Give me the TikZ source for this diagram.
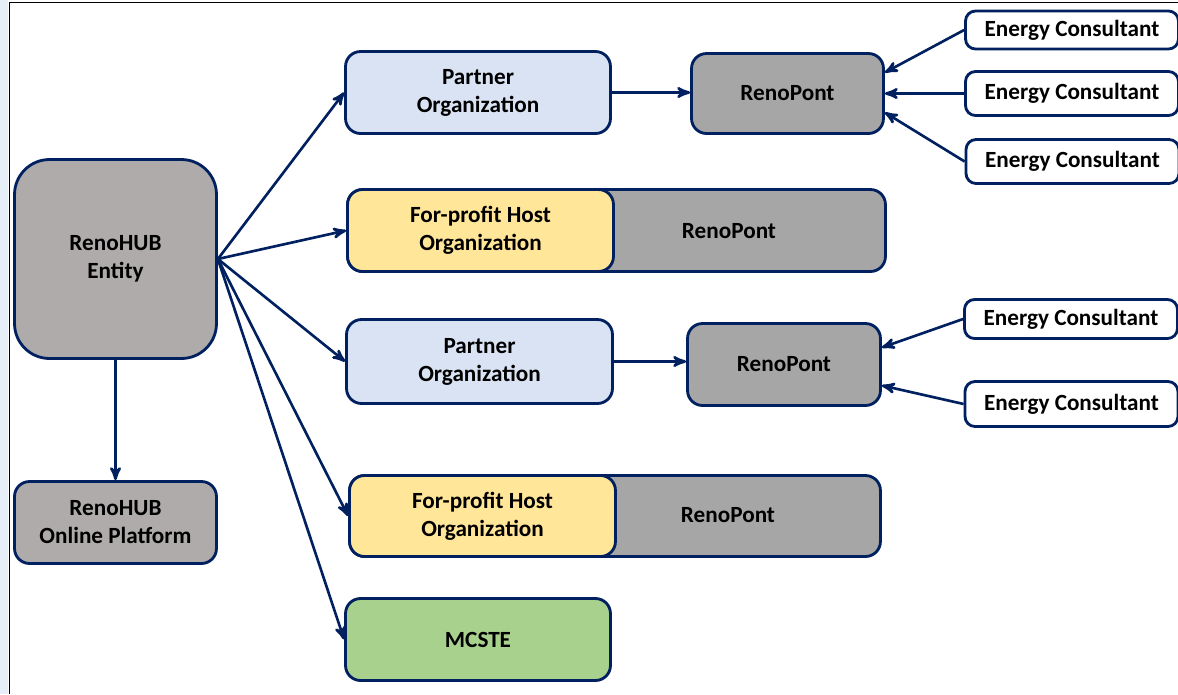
\documentclass[tikz,border=0pt]{standalone}
\usepackage{fontspec}
\setmainfont{Carlito}
\usetikzlibrary{calc}
\usetikzlibrary{arrows}

\definecolor{navy}{RGB}{0,32,96}
\definecolor{hubgray}{RGB}{175,171,171}
\definecolor{pontgray}{RGB}{166,166,166}
\definecolor{partnerblue}{RGB}{218,227,243}
\definecolor{hostyellow}{RGB}{255,230,153}
\definecolor{mcstegreen}{RGB}{169,209,142}
\definecolor{stripblue}{RGB}{230,238,248}

\begin{document}
\begin{tikzpicture} [x=0.02cm, y=-0.02cm,
  box/.style={draw=navy, line width=1.6pt, rounded corners=0.3cm, align=center,
    text=black, font=\bfseries\fontsize{13.2}{16}\selectfont, inner sep=0pt},
  consultant/.style={box, fill=white, rounded corners=0.2cm, minimum width=4.26cm},
  link/.style={navy, line width=1.5pt, ->, >=stealth'}]
\useasboundingbox (0,0) rectangle (1178,694);
\clip (0,0) rectangle (1178,694);
\fill[stripblue] (0,0) rectangle (8,694);
\draw[black, line width=0.9pt] (9.5,694) -- (9.5,2.5) -- (1180,2.5);

\node[box, fill=hubgray, rounded corners=0.7cm, minimum width=4.04cm, minimum height=3.98cm]
  (entity) at (115.5,259) {RenoHUB\\Entity};
\node[box, fill=hubgray, minimum width=4.04cm, minimum height=1.64cm]
  (platform) at (115.5,522.5) {RenoHUB\\Online Platform};

\node[box, fill=partnerblue, minimum width=5.3cm, minimum height=1.64cm]
  (partnerA) at (478,92.5) {Partner\\Organization};
\node[box, fill=pontgray, minimum width=3.84cm, minimum height=1.6cm]
  (renopontA) at (787.5,93.5) {RenoPont};

\node[box, fill=pontgray, minimum width=10.76cm, minimum height=1.64cm]
  (hostA) at (616.5,230.5) {};
\node[box, fill=hostyellow, minimum width=5.32cm, minimum height=1.64cm]
  (hostorgA) at (480.5,230.5) {For-profit Host\\Organization};
\node[font=\bfseries\fontsize{13.2}{16}\selectfont] (hostpontA) at (729,231) {RenoPont};

\node[box, fill=partnerblue, minimum width=5.32cm, minimum height=1.68cm]
  (partnerB) at (479.5,361.5) {Partner\\Organization};
\node[box, fill=pontgray, minimum width=3.86cm, minimum height=1.64cm]
  (renopontB) at (784,364.5) {RenoPont};

\node[box, fill=pontgray, minimum width=10.62cm, minimum height=1.62cm]
  (hostB) at (615,516) {};
\node[box, fill=hostyellow, minimum width=5.32cm, minimum height=1.62cm]
  (hostorgB) at (482.5,516) {For-profit Host\\Organization};
\node[font=\bfseries\fontsize{13.2}{16}\selectfont] (hostpontB) at (728,515) {RenoPont};

\node[box, fill=mcstegreen, minimum width=5.3cm, minimum height=1.64cm]
  (mcste) at (478,639.5) {MCSTE};

% consultants
\node[consultant, minimum height=0.76cm] (ecA1) at (1072,30) {Energy Consultant};
\node[consultant, minimum height=0.88cm] (ecA2) at (1072,93.5) {Energy Consultant};
\node[consultant, minimum height=0.88cm] (ecA3) at (1072.5,161.5) {Energy Consultant};
\node[consultant, minimum height=0.78cm] (ecB1) at (1071,319) {Energy Consultant};
\node[consultant, minimum height=0.9cm] (ecB2) at (1071.5,404) {Energy Consultant};

% links
\draw[link] (entity.south) -- (platform.north);
\foreach \t in {partnerA, hostorgA, partnerB, hostorgB, mcste}
  \draw[link] (entity.east) -- (\t.west);
\draw[link] (partnerA.east) -- (partnerA.east -| renopontA.west);
\draw[link] (partnerB.east) -- (partnerB.east -| renopontB.west);
\draw[link] (ecA1.west) -- ($(renopontA.east)+(0,-21)$);
\draw[link] (ecA2.west) -- (renopontA.east);
\draw[link] (ecA3.west) -- ($(renopontA.east)+(0,19)$);
\draw[link] (ecB1.west) -- ($(renopontB.east)+(0,-17)$);
\draw[link] (ecB2.west) -- ($(renopontB.east)+(0,21)$);
\end{tikzpicture}
\end{document}
